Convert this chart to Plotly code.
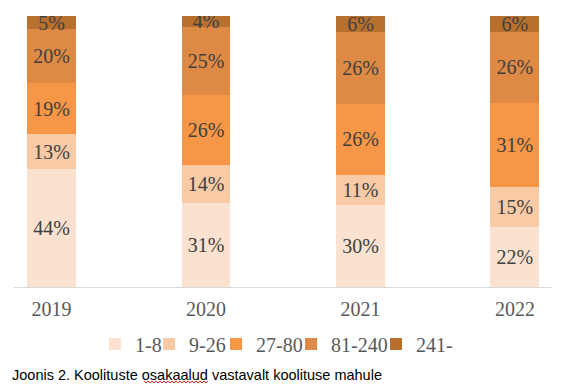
import plotly.graph_objects as go

years = ["2019", "2020", "2021", "2022"]
series_names = ["1-8", "9-26", "27-80", "81-240", "241-"]
v_1_8 = [44, 31, 30, 22]
v_9_26 = [13, 14, 11, 15]
v_27_80 = [19, 26, 26, 31]
v_81_240 = [20, 25, 26, 26]
v_241 = [5, 4, 6, 6]
colors = ["#FBE2D0", "#F8CAA5", "#F79646", "#DE8A44", "#B8702F"]

series_values = [v_1_8, v_9_26, v_27_80, v_81_240, v_241]

SERIF = "Liberation Serif, Times New Roman, serif"
legend_ids = ["legend", "legend2", "legend3", "legend4", "legend5"]
# left x (px) of each legend entry's text in the reference
legend_text_px = [137, 191, 258, 333, 418]

fig = go.Figure()
for name, vals, col, lid in zip(series_names, series_values, colors, legend_ids):
    fig.add_trace(go.Bar(
        x=years, y=vals, name=name, legend=lid,
        marker=dict(color=col, line=dict(width=0)),
        text=[f"{v}%" for v in vals],
        textposition="inside",
        insidetextanchor="middle",
        textangle=0,
        constraintext="none",
        textfont=dict(family=SERIF, size=20, color="#404040"),
        hoverinfo="skip",
    ))

W, H = 569, 392
ML, MR, MT, MB = 14, 17, 16, 105
PW, PH = W - ML - MR, H - MT - MB

legend_layout = {}
for lid, tx in zip(legend_ids, legend_text_px):
    legend_layout[lid] = dict(
        orientation="h", xref="container", yref="container",
        x=(tx - 42) / W, xanchor="left", y=1 - 344 / H, yanchor="middle",
        font=dict(family=SERIF, size=20, color="#595959"),
        itemwidth=30, bgcolor="rgba(0,0,0,0)",
    )

# spell-check squiggle under "osakaalud" in the caption
sq_x0, sq_x1, sq_y = 144, 209, 382
pts = []
px = sq_x0
k = 0
while px <= sq_x1:
    py = sq_y + (1 if k % 2 else -1)
    pts.append(((px - ML) / PW, (H - MB - py) / PH))
    px += 2
    k += 1
path = "M" + " L".join(f"{a:.5f},{b:.5f}" for a, b in pts)

fig.update_layout(
    width=W, height=H,
    barmode="stack", barnorm="percent",
    bargap=0.683,
    paper_bgcolor="white", plot_bgcolor="white",
    margin=dict(l=ML, r=MR, t=MT, b=MB, autoexpand=False),
    showlegend=True,
    xaxis=dict(
        range=[-0.243, 3.24], showline=True, linecolor="#D9D9D9", linewidth=1,
        showgrid=False, ticks="", ticklabelstandoff=4,
        tickfont=dict(family=SERIF, size=20, color="#595959"),
    ),
    yaxis=dict(range=[0, 100], visible=False, showgrid=False),
    annotations=[dict(
        text="Joonis 2. Koolituste osakaalud vastavalt koolituse mahule",
        xref="paper", yref="paper", x=-0.008, y=-0.325, xanchor="left", yanchor="middle",
        showarrow=False,
        font=dict(family="Liberation Sans, Arial, sans-serif", size=14.5, color="#000000"),
    )],
    shapes=[dict(type="path", xref="paper", yref="paper", path=path,
                 line=dict(color="#E0282A", width=1))],
    **legend_layout,
)

fig.write_html("out.html", config={"displayModeBar": False},
               post_script="document.body.style.margin='0';")
